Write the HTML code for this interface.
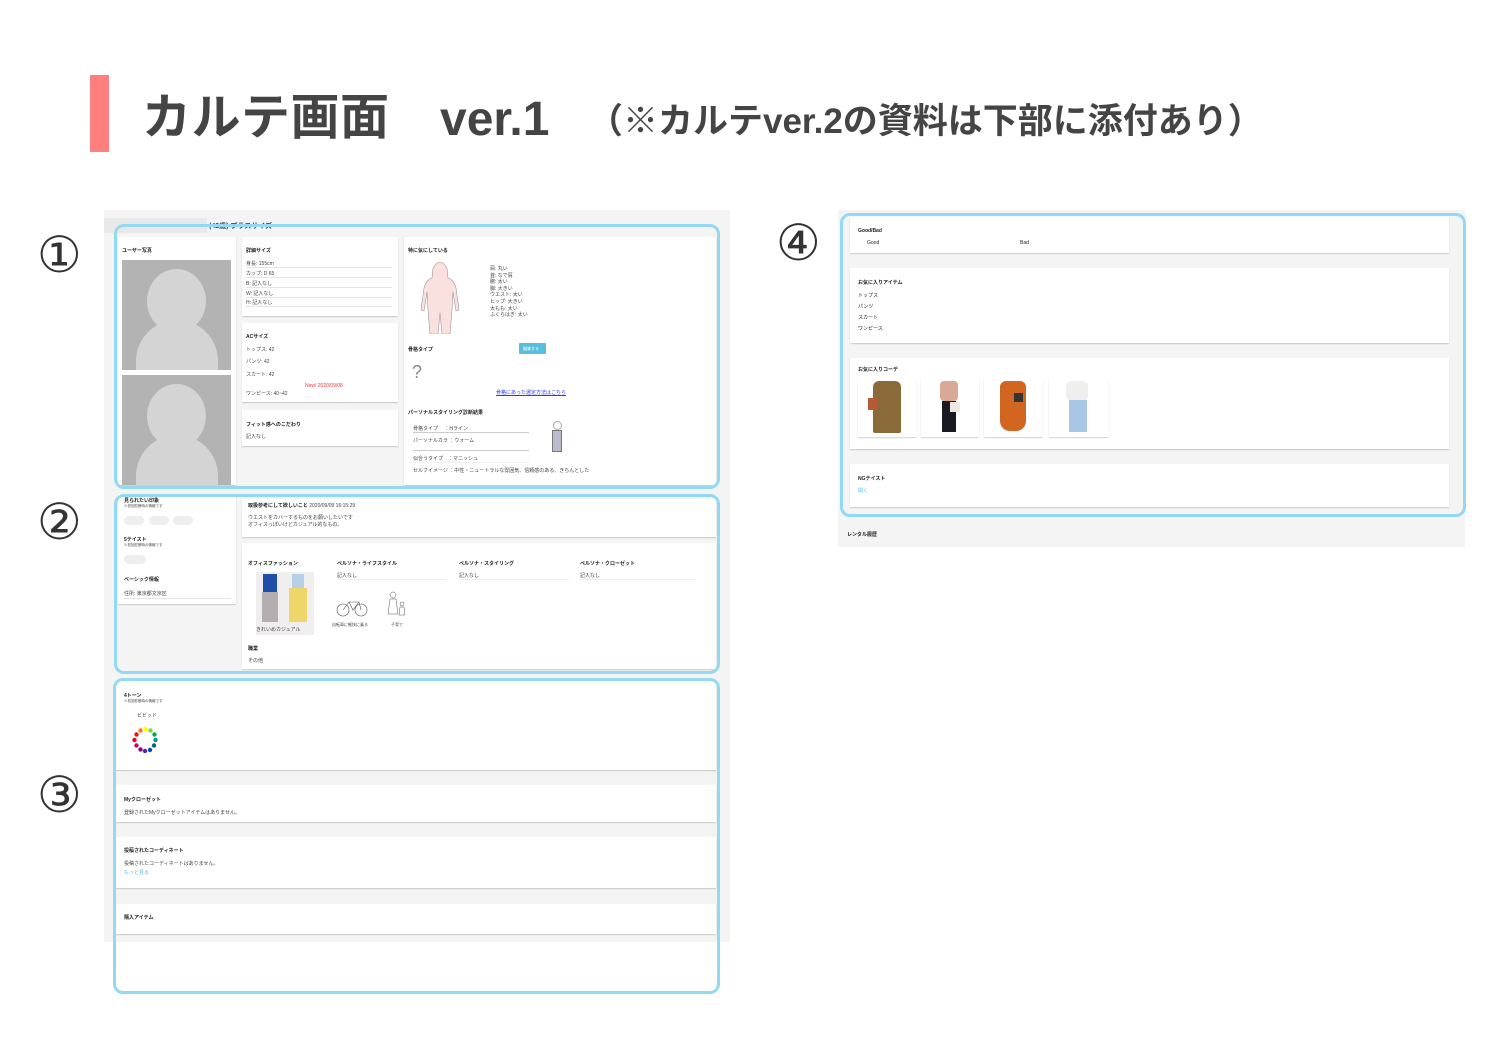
<!DOCTYPE html>
<html><head><meta charset="utf-8">
<style>
*{margin:0;padding:0;box-sizing:border-box}
body{width:1496px;height:1038px;background:#fff;position:relative;overflow:hidden;font-family:"Liberation Sans","Noto Sans CJK JP",sans-serif;color:#333}
.a{position:absolute}
.t{position:absolute;font-size:5px;white-space:nowrap;color:#444}
.b{font-weight:bold;color:#222}
.card{position:absolute;background:#fff;box-shadow:0 1px 1px rgba(0,0,0,.18)}
.blue{position:absolute;border:3px solid #92d9f1;border-radius:10px}
.num{position:absolute;font-size:50px;color:#333;line-height:1;font-family:"DejaVu Sans","Noto Sans CJK JP",sans-serif}
.ph{position:absolute;background:#b3b3b3;overflow:hidden}
.ph .h{position:absolute;left:25px;top:9px;width:59px;height:64px;border-radius:50%;background:#d4d4d4}
.ph .bd{position:absolute;left:14px;top:60px;width:82px;height:90px;border-radius:45px 45px 0 0;background:#d4d4d4}
.ln{position:absolute;height:1px;background:#e4e4e4}
</style></head><body>
<div class="a" style="left:90px;top:75px;width:19px;height:77px;background:#ff7f7f"></div>
<div class="a" style="left:142px;top:86px;font-size:49px;font-weight:bold;color:#444;line-height:64px;white-space:nowrap;letter-spacing:0.5px">カルテ画面</div>
<div class="a" style="left:440px;top:88px;font-size:48px;font-weight:bold;color:#444;line-height:64px;white-space:nowrap">ver.1</div>
<div class="a" style="left:588px;top:97px;font-size:35px;font-weight:bold;color:#444;line-height:50px;white-space:nowrap;letter-spacing:0px">（※カルテver.2の資料は下部に添付あり）</div>

<div class="num" style="left:37px;top:230px">①</div>
<div class="num" style="left:37px;top:497px">②</div>
<div class="num" style="left:37px;top:770px">③</div>
<div class="num" style="left:776px;top:218px">④</div>

<div class="a" style="left:104px;top:210px;width:626px;height:732px;background:#f4f4f4"></div>
<div class="a" style="left:104px;top:218px;width:103px;height:15px;background:#e9e9e9"></div>
<div class="t b" style="left:209px;top:221px;font-size:7px;color:#3a4a6a">(42歳) プラスサイズ</div>

<div class="card" style="left:118px;top:237px;width:118px;height:248px"></div>
<div class="t b" style="left:122px;top:247px">ユーザー写真</div>
<div class="ph" style="left:122px;top:260px;width:109px;height:110px"><div class="h"></div><div class="bd"></div></div>
<div class="ph" style="left:122px;top:375px;width:109px;height:110px"><div class="h"></div><div class="bd"></div></div>

<div class="card" style="left:242px;top:237px;width:156px;height:79px"></div>
<div class="t b" style="left:246px;top:247px">詳細サイズ</div>
<div class="t" style="left:246px;top:260px">身長: 155cm</div><div class="ln" style="left:246px;top:267px;width:146px"></div>
<div class="t" style="left:246px;top:270px">カップ: D 65</div><div class="ln" style="left:246px;top:277px;width:146px"></div>
<div class="t" style="left:246px;top:280px">B: 記入なし</div><div class="ln" style="left:246px;top:287px;width:146px"></div>
<div class="t" style="left:246px;top:290px">W: 記入なし</div><div class="ln" style="left:246px;top:297px;width:146px"></div>
<div class="t" style="left:246px;top:299px">H: 記入なし</div><div class="ln" style="left:246px;top:306px;width:146px"></div>

<div class="card" style="left:242px;top:323px;width:156px;height:79px"></div>
<div class="t b" style="left:246px;top:333px">ACサイズ</div>
<div class="t" style="left:246px;top:346px">トップス: 42</div>
<div class="t" style="left:246px;top:358px">パンツ: 42</div>
<div class="t" style="left:246px;top:371px">スカート: 42</div>
<div class="t" style="left:305px;top:383px;color:#f33">New! 2020/09/08</div>
<div class="t" style="left:246px;top:390px">ワンピース: 40~42</div>

<div class="card" style="left:242px;top:410px;width:156px;height:36px"></div>
<div class="t b" style="left:246px;top:421px">フィット感へのこだわり</div>
<div class="t" style="left:246px;top:433px">記入なし</div>

<div class="card" style="left:404px;top:237px;width:312px;height:248px"></div>
<div class="t b" style="left:408px;top:247px">特に気にしている</div>
<svg class="a" style="left:420px;top:258px" width="40" height="76"><path d="M13 10 Q20 -2 27 10 L28 20 Q34 22 36 30 L39 52 L36 53 L33 34 L32 52 L30 76 L22 76 L20 55 L18 76 L10 76 L8 52 L7 34 L4 53 L1 52 L4 30 Q6 22 12 20 Z" fill="#fbe0e0" stroke="#999" stroke-width=".6"/><ellipse cx="20" cy="11" rx="5" ry="6" fill="#fbe0e0"/></svg>
<div class="t" style="left:490px;top:266px;line-height:6.6px">肩: 丸い<br>首: なで肩<br>腕: 太い<br>胸: 大きい<br>ウエスト: 太い<br>ヒップ: 大きい<br>太もも: 太い<br>ふくらはぎ: 太い</div>
<div class="t b" style="left:408px;top:346px">骨格タイプ</div>
<div class="a" style="left:519px;top:343px;width:27px;height:11px;background:#55bfdc;border-radius:1px"></div>
<div class="t" style="left:523px;top:346px;color:#fff;font-size:4px">編集する</div>
<div class="a" style="left:412px;top:362px;font-size:18px;color:#888;line-height:20px">?</div>
<div class="t" style="left:496px;top:389px;color:#33f;text-decoration:underline">骨格にあった選定方法はこちら</div>
<div class="t b" style="left:408px;top:409px">パーソナルスタイリング診断結果</div>
<div class="t" style="left:413px;top:425px">骨格タイプ　 ：Hライン</div><div class="ln" style="left:413px;top:432px;width:116px;background:#ccc"></div>
<div class="t" style="left:413px;top:437px">パーソナルカラ ：ウォーム</div><div class="ln" style="left:413px;top:450px;width:116px;background:#ccc"></div>
<div class="t" style="left:413px;top:455px">似合うタイプ　：マニッシュ</div><div class="ln" style="left:413px;top:462px;width:116px;background:#eee"></div>
<div class="t" style="left:413px;top:467px">セルフイメージ ：中性・ニュートラルな雰囲気、信頼感のある、きちんとした</div>
<div class="a" style="left:553px;top:421px;width:9px;height:9px;border:1px solid #aaa;border-radius:50%"></div>
<div class="a" style="left:552px;top:430px;width:10px;height:22px;background:#b8bccc;border:1px solid #777"></div>

<div class="blue" style="left:114px;top:224px;width:606px;height:265px"></div>

<div class="card" style="left:118px;top:494px;width:118px;height:110px"></div>
<div class="t b" style="left:124px;top:497px">見られたい印象</div>
<div class="t" style="left:124px;top:504px;font-size:3.5px">※初回診断時の情報です</div>
<div class="a" style="left:124px;top:516px;width:20px;height:9px;background:#eee;border-radius:5px"></div>
<div class="a" style="left:149px;top:516px;width:20px;height:9px;background:#eee;border-radius:5px"></div>
<div class="a" style="left:173px;top:516px;width:20px;height:9px;background:#eee;border-radius:5px"></div>
<div class="t b" style="left:124px;top:536px">5テイスト</div>
<div class="t" style="left:124px;top:543px;font-size:3.5px">※初回診断時の情報です</div>
<div class="a" style="left:124px;top:555px;width:22px;height:9px;background:#eee;border-radius:5px"></div>
<div class="t b" style="left:124px;top:576px">ベーシック情報</div>
<div class="t" style="left:124px;top:590px">住所: 東京都文京区</div><div class="ln" style="left:124px;top:598px;width:107px"></div>

<div class="card" style="left:242px;top:499px;width:474px;height:38px"></div>
<div class="t" style="left:248px;top:502px"><b style="color:#222">取扱参考にして欲しいこと</b> 2020/09/09 16:15:29</div>
<div class="t" style="left:248px;top:515px;line-height:7px">ウエストをカバーするものをお願いしたいです<br>オフィスっぽいけどカジュアル的なもの。</div>
<div class="card" style="left:242px;top:543px;width:474px;height:126px"></div>
<div class="t b" style="left:248px;top:560px">オフィスファッション</div>
<div class="t b" style="left:337px;top:560px">ペルソナ・ライフスタイル</div>
<div class="t b" style="left:459px;top:560px">ペルソナ・スタイリング</div>
<div class="t b" style="left:580px;top:560px">ペルソナ・クローゼット</div>
<div class="t" style="left:337px;top:572px">記入なし</div><div class="ln" style="left:337px;top:579px;width:109px;background:#eee"></div>
<div class="t" style="left:459px;top:572px">記入なし</div><div class="ln" style="left:459px;top:579px;width:110px;background:#eee"></div>
<div class="t" style="left:580px;top:572px">記入なし</div><div class="ln" style="left:580px;top:579px;width:115px;background:#eee"></div>
<div class="a" style="left:256px;top:572px;width:58px;height:63px;background:#f0eeee"></div>
<div class="a" style="left:263px;top:574px;width:14px;height:18px;background:#1f4da8"></div>
<div class="a" style="left:262px;top:592px;width:16px;height:30px;background:#b5aeb0"></div>
<div class="a" style="left:292px;top:574px;width:12px;height:14px;background:#b9cfe8"></div>
<div class="a" style="left:289px;top:588px;width:18px;height:34px;background:#efd66b"></div>
<div class="t" style="left:256px;top:626px">きれいめカジュアル</div>
<svg class="a" style="left:335px;top:598px" width="34" height="20"><circle cx="8" cy="12" r="6" fill="none" stroke="#555" stroke-width=".6"/><circle cx="26" cy="12" r="6" fill="none" stroke="#555" stroke-width=".6"/><path d="M8 12 L14 4 L24 4 L26 12 M14 4 L18 12 L24 4" fill="none" stroke="#555" stroke-width=".6"/></svg>
<div class="t" style="left:332px;top:622px;font-size:4px">自転車に軽快に乗る</div>
<svg class="a" style="left:385px;top:590px" width="24" height="28"><circle cx="8" cy="5" r="3" fill="none" stroke="#555" stroke-width=".5"/><path d="M5 9 L3 24 L13 24 L11 9 Z" fill="none" stroke="#555" stroke-width=".5"/><circle cx="17" cy="14" r="2" fill="none" stroke="#555" stroke-width=".5"/><path d="M15 17 L14 25 L20 25 L19 17Z" fill="none" stroke="#555" stroke-width=".5"/></svg>
<div class="t" style="left:391px;top:622px;font-size:4px">子育て</div>
<div class="t b" style="left:248px;top:645px">職業</div>
<div class="t" style="left:248px;top:657px">その他</div>

<div class="blue" style="left:114px;top:494px;width:606px;height:180px"></div>

<div class="card" style="left:116px;top:680px;width:600px;height:90px"></div>
<div class="t b" style="left:124px;top:692px">4トーン</div>
<div class="t" style="left:124px;top:699px;font-size:3.5px">※初回診断時の情報です</div>
<div class="t" style="left:137px;top:712px">ビビッド</div>
<svg class="a" style="left:128px;top:724px" width="34" height="32"><g>
<circle cx="17.5" cy="5" r="2.2" fill="#ff0"/><circle cx="22.5" cy="6.5" r="2.2" fill="#7d3"/><circle cx="26.5" cy="10.5" r="2.2" fill="#0a5"/><circle cx="27.5" cy="16" r="2.2" fill="#097"/><circle cx="26" cy="21.5" r="2.2" fill="#067"/><circle cx="22" cy="26" r="2.2" fill="#14b"/><circle cx="17" cy="27" r="2.2" fill="#52a"/><circle cx="12.5" cy="25.5" r="2.2" fill="#808"/><circle cx="8.5" cy="21.5" r="2.2" fill="#c06"/><circle cx="6.5" cy="16" r="2.2" fill="#e02"/><circle cx="8.5" cy="10.5" r="2.2" fill="#e11"/><circle cx="12.5" cy="6.5" r="2.2" fill="#f71"/></g></svg>
<div class="card" style="left:116px;top:785px;width:600px;height:37px"></div>
<div class="t b" style="left:124px;top:796px">Myクローゼット</div>
<div class="t" style="left:124px;top:809px">登録されたMyクローゼットアイテムはありません。</div>
<div class="card" style="left:116px;top:837px;width:600px;height:51px"></div>
<div class="t b" style="left:124px;top:847px">投稿されたコーディネート</div>
<div class="t" style="left:124px;top:860px">投稿されたコーディネートはありません。</div>
<div class="t" style="left:124px;top:869px;color:#5bc0eb">もっと見る</div>
<div class="card" style="left:116px;top:904px;width:600px;height:30px"></div>
<div class="t b" style="left:124px;top:914px">購入アイテム</div>
<div class="blue" style="left:113px;top:678px;width:607px;height:316px"></div>

<div class="a" style="left:838px;top:210px;width:627px;height:337px;background:#f4f4f4"></div>
<div class="card" style="left:850px;top:217px;width:599px;height:36px"></div>
<div class="t b" style="left:858px;top:228px">Good/Bad</div>
<div class="t" style="left:867px;top:240px;color:#222">Good</div>
<div class="t" style="left:1020px;top:240px;color:#222">Bad</div>
<div class="card" style="left:850px;top:268px;width:599px;height:75px"></div>
<div class="t b" style="left:858px;top:279px">お気に入りアイテム</div>
<div class="t" style="left:858px;top:292px;color:#222">トップス</div>
<div class="t" style="left:858px;top:303px;color:#222">パンツ</div>
<div class="t" style="left:858px;top:314px;color:#222">スカート</div>
<div class="t" style="left:858px;top:325px;color:#222">ワンピース</div>
<div class="card" style="left:850px;top:358px;width:599px;height:91px"></div>
<div class="t b" style="left:858px;top:366px">お気に入りコーデ</div>
<div class="card" style="left:858px;top:378px;width:58px;height:59px"></div>
<div class="a" style="left:873px;top:381px;width:28px;height:52px;background:#8b6a3a;border-radius:6px 6px 2px 2px"></div>
<div class="a" style="left:868px;top:398px;width:10px;height:12px;background:#b55a34"></div>
<div class="card" style="left:921px;top:378px;width:58px;height:59px"></div>
<div class="a" style="left:940px;top:381px;width:18px;height:20px;background:#d9a996;border-radius:4px"></div>
<div class="a" style="left:942px;top:401px;width:14px;height:31px;background:#1a1a22"></div>
<div class="a" style="left:950px;top:402px;width:10px;height:10px;background:#eee8e0"></div>
<div class="card" style="left:984px;top:378px;width:59px;height:59px"></div>
<div class="a" style="left:1000px;top:381px;width:26px;height:50px;background:#d26520;border-radius:6px 6px 10px 10px"></div>
<div class="a" style="left:1014px;top:393px;width:9px;height:9px;background:#333"></div>
<div class="card" style="left:1049px;top:378px;width:59px;height:59px"></div>
<div class="a" style="left:1066px;top:381px;width:22px;height:20px;background:#efefef;border-radius:5px"></div>
<div class="a" style="left:1069px;top:400px;width:18px;height:32px;background:#a9c6e6"></div>
<div class="card" style="left:850px;top:464px;width:599px;height:43px"></div>
<div class="t b" style="left:858px;top:475px">NGテイスト</div>
<div class="t" style="left:858px;top:487px;color:#5bc0eb">開く</div>
<div class="blue" style="left:840px;top:213px;width:626px;height:304px"></div>
<div class="t b" style="left:847px;top:531px">レンタル履歴</div>
</body></html>
